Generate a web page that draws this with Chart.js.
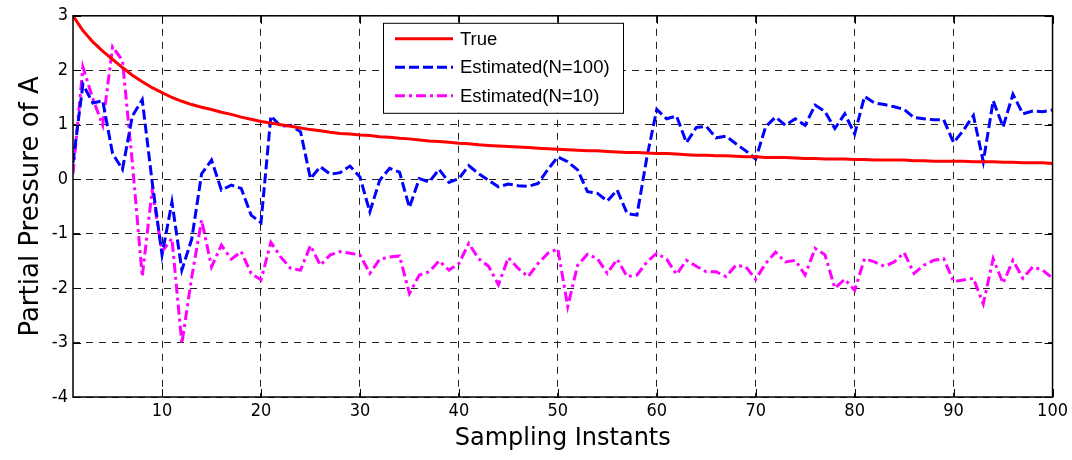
<!DOCTYPE html>
<html>
<head>
<meta charset="utf-8">
<script src="https://cdn.jsdelivr.net/npm/chart.js@4.4.1/dist/chart.umd.min.js"></script>
<style>
html, body { margin: 0; padding: 0; background: #fff; }
#wrap { width: 1072px; height: 460px; }
</style>
</head>
<body>
<div id="wrap"><canvas id="pp"></canvas></div>
<script>
// sampling instants 1..100
var instants = Array.from({length: 100}, function (_, k) { return k + 1; });

var trueVals = [
    3.00, 2.73, 2.52, 2.35, 2.20, 2.05, 1.91, 1.79, 1.68, 1.59,
    1.50, 1.43, 1.37, 1.32, 1.28, 1.23, 1.19, 1.14, 1.10, 1.06,
    1.03, 1.00, 0.97, 0.94, 0.91, 0.89, 0.86, 0.84, 0.83, 0.81,
    0.80, 0.78, 0.77, 0.75, 0.74, 0.72, 0.70, 0.69, 0.68, 0.66,
    0.65, 0.63, 0.62, 0.61, 0.60, 0.59, 0.58, 0.57, 0.56, 0.55,
    0.54, 0.53, 0.52, 0.52, 0.51, 0.50, 0.49, 0.49, 0.48, 0.47,
    0.47, 0.46, 0.45, 0.44, 0.44, 0.43, 0.43, 0.42, 0.41, 0.41,
    0.40, 0.40, 0.40, 0.39, 0.38, 0.38, 0.37, 0.37, 0.37, 0.36,
    0.36, 0.35, 0.35, 0.35, 0.35, 0.34, 0.34, 0.33, 0.33, 0.33,
    0.33, 0.32, 0.32, 0.32, 0.31, 0.31, 0.30, 0.30, 0.30, 0.29
];

var est100 = [
    0.30, 1.74, 1.40, 1.44, 0.47, 0.18, 1.16, 1.46, -0.05, -1.39,
    -0.42, -1.67, -1.10, 0.10, 0.35, -0.20, -0.11, -0.17, -0.66, -0.80,
    1.16, 0.97, 0.99, 0.87, 0.01, 0.23, 0.09, 0.12, 0.24, 0.04,
    -0.60, -0.02, 0.20, 0.13, -0.52, 0.01, -0.05, 0.18, -0.06, 0.01,
    0.25, 0.10, -0.02, -0.14, -0.09, -0.12, -0.13, -0.08, 0.18, 0.41,
    0.32, 0.17, -0.23, -0.26, -0.40, -0.20, -0.63, -0.66, 0.40, 1.28,
    1.11, 1.16, 0.67, 0.95, 0.97, 0.76, 0.79, 0.65, 0.52, 0.37,
    0.96, 1.14, 0.99, 1.11, 0.99, 1.36, 1.24, 0.93, 1.20, 0.83,
    1.52, 1.40, 1.37, 1.33, 1.28, 1.13, 1.11, 1.09, 1.09, 0.67,
    0.90, 1.17, 0.32, 1.44, 0.96, 1.56, 1.20, 1.25, 1.24, 1.27
];

var est10 = [
    0.10, 2.06, 1.48, 0.99, 2.43, 2.18, 0.30, -1.79, -0.20, -1.33,
    -1.09, -3.02, -1.80, -0.75, -1.61, -1.21, -1.47, -1.33, -1.73, -1.85,
    -1.16, -1.43, -1.64, -1.67, -1.22, -1.58, -1.39, -1.33, -1.36, -1.39,
    -1.73, -1.47, -1.43, -1.41, -2.10, -1.76, -1.70, -1.50, -1.67, -1.55,
    -1.18, -1.46, -1.60, -1.94, -1.44, -1.64, -1.79, -1.55, -1.36, -1.28,
    -2.34, -1.58, -1.38, -1.46, -1.73, -1.47, -1.79, -1.76, -1.52, -1.36,
    -1.47, -1.75, -1.49, -1.60, -1.70, -1.70, -1.79, -1.58, -1.61, -1.84,
    -1.55, -1.34, -1.52, -1.49, -1.76, -1.27, -1.39, -2.00, -1.84, -2.04,
    -1.46, -1.52, -1.60, -1.52, -1.35, -1.73, -1.58, -1.49, -1.46, -1.88,
    -1.85, -1.82, -2.29, -1.46, -1.91, -1.49, -1.82, -1.61, -1.67, -1.82
];

var seriesNames = ['True', 'Estimated(N=100)', 'Estimated(N=10)'];
var xTicks = [10, 20, 30, 40, 50, 60, 70, 80, 90, 100];
var yTicks = [-4, -3, -2, -1, 0, 1, 2, 3];

var tickFont = {family: "'Liberation Sans Narrow', 'DejaVu Sans Condensed', 'Liberation Sans', sans-serif", size: 18};
var xTitleFont = {family: "'DejaVu Sans', 'Liberation Sans', sans-serif", size: 24};
var yTitleFont = {family: "'DejaVu Sans', 'Liberation Sans', sans-serif", size: 26};

// MATLAB style box with inward ticks
var framePlugin = {
    id: 'frame',
    afterDatasetsDraw: function (chart) {
        var ctx = chart.ctx, a = chart.chartArea;
        var xs = chart.scales.x, ys = chart.scales.y;
        var len = 8;
        ctx.save();
        ctx.strokeStyle = '#000';
        ctx.lineWidth = 1;
        ctx.setLineDash([]);
        ctx.beginPath();
        xTicks.forEach(function (v) {
            var px = Math.round(xs.getPixelForValue(v)) + 0.5;
            ctx.moveTo(px, a.bottom); ctx.lineTo(px, a.bottom - len);
            ctx.moveTo(px, a.top); ctx.lineTo(px, a.top + len);
        });
        yTicks.forEach(function (v) {
            var py = Math.round(ys.getPixelForValue(v)) + 0.5;
            ctx.moveTo(a.left, py); ctx.lineTo(a.left + len, py);
            ctx.moveTo(a.right, py); ctx.lineTo(a.right - len, py);
        });
        ctx.stroke();
        ctx.lineWidth = 1.5;
        ctx.strokeRect(a.left, a.top, a.right - a.left, a.bottom - a.top);
        ctx.restore();
    }
};

// boxed legend inside the axes
var legendPlugin = {
    id: 'boxLegend',
    afterDraw: function (chart) {
        var ctx = chart.ctx, a = chart.chartArea;
        var bx = a.left + 310, by = a.top + 7, bw = 240, bh = 90;
        ctx.save();
        ctx.fillStyle = '#fff';
        ctx.fillRect(bx, by, bw, bh);
        ctx.strokeStyle = '#000';
        ctx.lineWidth = 1;
        ctx.strokeRect(bx + 0.5, by + 0.5, bw, bh);
        ctx.font = "18.5px 'Liberation Sans', Arial, sans-serif";
        ctx.textBaseline = 'middle';
        chart.data.datasets.forEach(function (ds, i) {
            var ry = by + 16 + i * 28.5;
            ctx.strokeStyle = ds.borderColor;
            ctx.lineWidth = ds.borderWidth;
            ctx.setLineDash(ds.borderDash || []);
            ctx.beginPath();
            ctx.moveTo(bx + 12, ry);
            ctx.lineTo(bx + 70, ry);
            ctx.stroke();
            ctx.fillStyle = '#000';
            ctx.fillText(ds.label, bx + 77, ry + 1);
        });
        ctx.restore();
    }
};

new Chart(document.getElementById('pp'), {
    type: 'line',
    data: {
        labels: instants,
        datasets: [
            {label: seriesNames[0], data: trueVals, borderColor: '#ff0000', borderWidth: 3},
            {label: seriesNames[1], data: est100, borderColor: '#0000ff', borderWidth: 3, borderDash: [10, 4]},
            {label: seriesNames[2], data: est10, borderColor: '#ff00ff', borderWidth: 3, borderDash: [10, 4, 3, 4]}
        ]
    },
    options: {
        responsive: true,
        maintainAspectRatio: false,
        animation: false,
        devicePixelRatio: 1,
        layout: {padding: {top: 15, right: 19, left: 0, bottom: 0}},
        elements: {point: {radius: 0}, line: {tension: 0}},
        plugins: {legend: {display: false}, tooltip: {enabled: false}},
        scales: {
            x: {
                type: 'linear',
                min: 1,
                max: 100,
                afterBuildTicks: function (s) { s.ticks = xTicks.map(function (v) { return {value: v}; }); },
                afterFit: function (s) { s.height = 63; },
                grid: {color: '#222', lineWidth: 1, drawTicks: false},
                border: {display: false, dash: [7, 6]},
                ticks: {color: '#000', font: tickFont, padding: 4, maxRotation: 0},
                title: {display: true, text: 'Sampling Instants', color: '#000', font: xTitleFont, padding: {bottom: 7}}
            },
            y: {
                min: -4,
                max: 3,
                afterBuildTicks: function (s) { s.ticks = yTicks.map(function (v) { return {value: v}; }); },
                afterFit: function (s) { s.width = 73; },
                grid: {color: '#222', lineWidth: 1, drawTicks: false},
                border: {display: false, dash: [7, 6]},
                ticks: {color: '#000', font: tickFont, padding: 5},
                title: {display: true, text: 'Partial Pressure of A', color: '#000', font: yTitleFont, padding: {top: 16}}
            }
        }
    },
    plugins: [framePlugin, legendPlugin]
});
</script>
</body>
</html>
